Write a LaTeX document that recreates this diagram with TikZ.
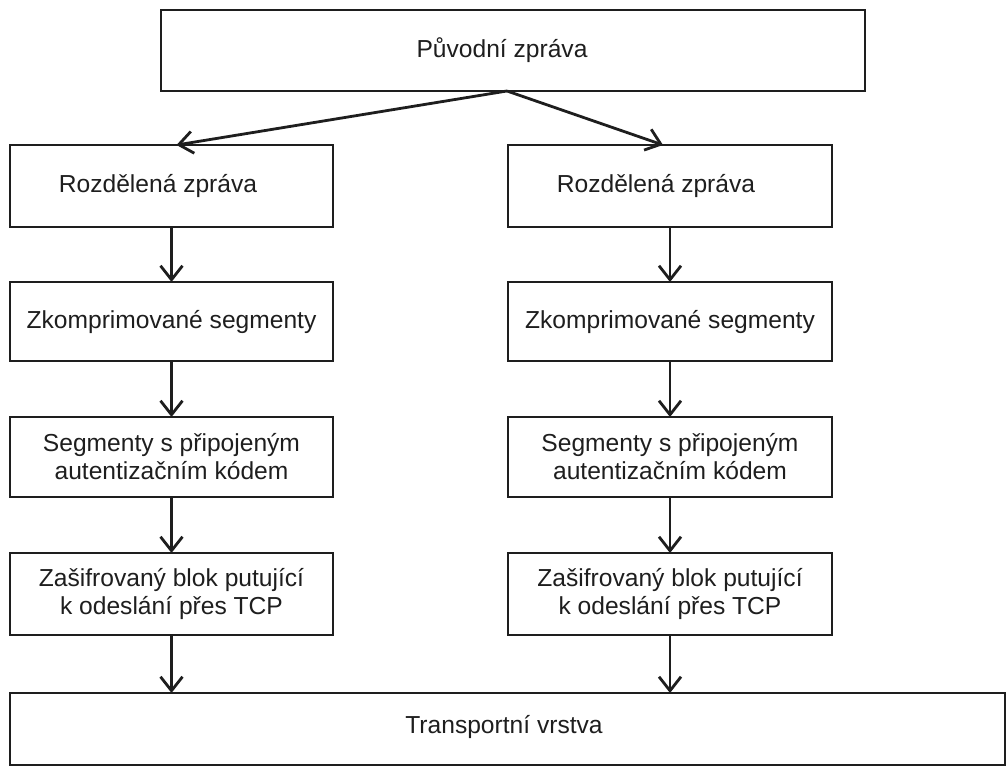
\documentclass[tikz,border=0pt]{standalone}
\usepackage{fontspec}
\setmainfont{Liberation Sans}
\usetikzlibrary{arrows.meta}
\definecolor{ink}{HTML}{1E1E1E}
\tikzset{
  box/.style={draw=ink, line width=2.9pt, inner sep=0pt, outer sep=0pt, align=center, text=ink,
    font=\fontsize{24.6}{28}\selectfont},
  lbl/.style={inner sep=0pt, text=ink, font=\fontsize{24.6}{28}\selectfont},
  conn/.style={draw=ink, line width=2.8pt, -{Straight Barb[length=14pt,width=22pt,line width=2.8pt]}}
}
\begin{document}
\begin{tikzpicture}[x=1pt,y=-1pt]
\useasboundingbox (0,0) rectangle (1008,771);
% top
\node[box, minimum width=704pt, minimum height=81pt] (top) at (513,50.5) {};
\node[lbl] (toplbl) at (502,50) {Původní zpráva};
\coordinate (apex) at (507,91);
% left column
\node[box, minimum width=323pt, minimum height=82pt] (l1) at (171.5,186) {};
\node[lbl] (l1lbl) at (158,186) {Rozdělená zpráva};
\node[box, minimum width=323pt, minimum height=79pt] (l2) at (171.5,321.5) {Zkomprimované segmenty};
\node[box, minimum width=323pt, minimum height=80pt] (l3) at (171.5,457) {Segmenty s připojeným\\autentizačním kódem};
\node[box, minimum width=323pt, minimum height=82pt] (l4) at (171.5,594) {Zašifrovaný blok putující\\k odeslání přes TCP};
% right column
\node[box, minimum width=324pt, minimum height=82pt] (r1) at (670,186) {};
\node[lbl] (r1lbl) at (656,186) {Rozdělená zpráva};
\node[box, minimum width=324pt, minimum height=79pt] (r2) at (670,321.5) {Zkomprimované segmenty};
\node[box, minimum width=324pt, minimum height=80pt] (r3) at (670,457) {Segmenty s připojeným\\autentizačním kódem};
\node[box, minimum width=324pt, minimum height=82pt] (r4) at (670,594) {Zašifrovaný blok putující\\k odeslání přes TCP};
% bottom
\node[box, minimum width=995pt, minimum height=72pt] (bot) at (507.5,729) {};
\node[lbl] (botlbl) at (504,727) {Transportní vrstva};
% connectors
\draw[conn] (apex) -- ([xshift=5pt]l1.north);
\draw[conn] (apex) -- ([xshift=-7pt]r1.north);
\draw[conn] (l1.south) -- (l2.north);
\draw[conn] (l2.south) -- (l3.north);
\draw[conn] (l3.south) -- (l4.north);
\draw[conn] (l4.south) -- (l4.south |- bot.north);
\draw[conn] (r1.south) -- (r2.north);
\draw[conn] (r2.south) -- (r3.north);
\draw[conn] (r3.south) -- (r4.north);
\draw[conn] (r4.south) -- (r4.south |- bot.north);
\end{tikzpicture}
\end{document}
